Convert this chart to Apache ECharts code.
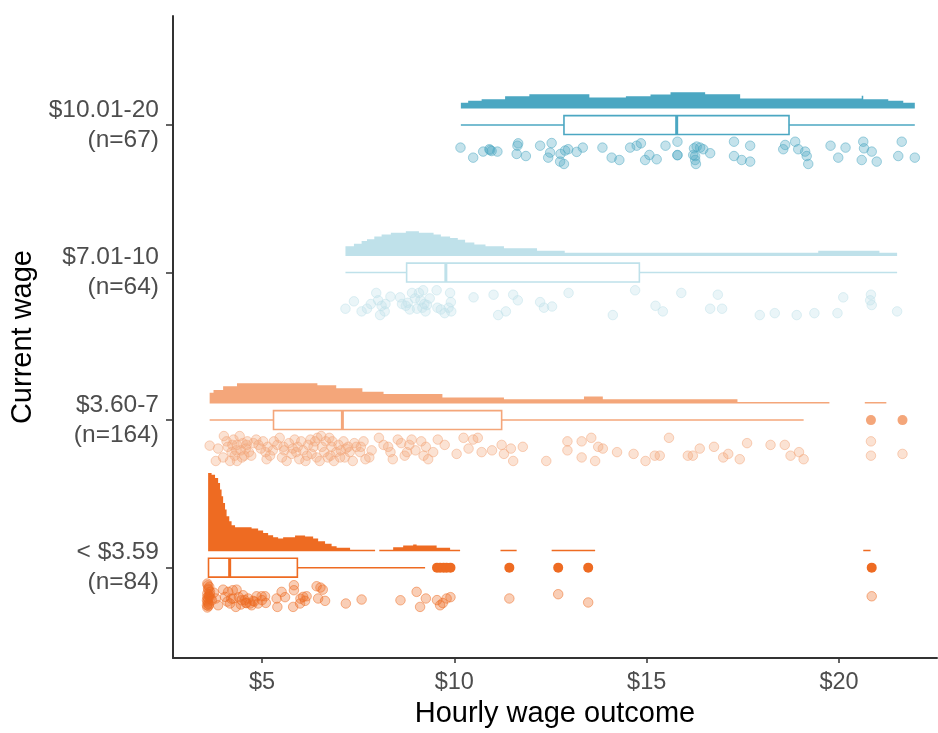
<!DOCTYPE html>
<html><head><meta charset="utf-8">
<script src="https://cdn.jsdelivr.net/npm/echarts@6/dist/echarts.min.js"></script>
<style>html,body{margin:0;padding:0;background:#fff}#chart{width:938px;height:733px}</style>
</head><body><div id="chart"></div>
<script>
// ---------- data ----------
const groupNames = ['< $3.59', '$3.60-7', '$7.01-10', '$10.01-20'];
const groupN = [84, 164, 64, 67];
const xTicks = [5, 10, 15, 20];

// density steps: [x start, density height]; last entry marks end
const dens_lt359 = [[3.60,78.3],[3.69,76.7],[3.78,73.3],[3.86,68.3],[3.91,61.7],[3.95,55],[3.99,48.3],[4.04,41.7],[4.08,35],[4.15,30],[4.21,26],[4.30,24],[4.73,22.7],[4.90,20.7],[5.03,18.3],[5.16,16],[5.29,14],[5.42,12.7],[5.55,14],[5.86,15.7],[6.12,14.7],[6.33,12.7],[6.46,10],[6.64,7.3],[6.81,5],[6.94,3.3],[7.29,1.3],[7.94,0],[8.05,1.3],[8.41,4],[8.67,5.7],[8.93,6.7],[9.02,5.7],[9.54,3.3],[9.89,1.3],[10.15,0],[11.20,1.3],[11.62,0],[12.53,1.3],[13.66,0],[20.63,1.3],[20.82,0]];
const dens_360_7 = [[3.64,11],[3.74,13.6],[3.99,17.3],[4.35,20.3],[6.44,18.4],[6.93,15.4],[7.61,11.8],[8.16,9.6],[9.69,6.2],[11.29,4.4],[13.37,7],[13.86,4.4],[17.36,1.5],[19.75,0],[20.67,1.5],[21.23,0]];
const dens_701_10 = [[7.17,9.8],[7.39,12.4],[7.59,15],[7.73,16.9],[7.92,19.5],[8.11,21.5],[8.35,23.4],[8.74,25],[9.08,23.4],[9.46,21.5],[9.65,19.5],[9.89,18.2],[10.09,16.3],[10.28,13.6],[10.52,11.7],[10.81,9.8],[11.29,7.8],[12.15,5.2],[12.87,3.3],[19.46,5.2],[21.05,3.3],[21.51,0]];
const dens_1001_20 = [[10.17,5.7],[10.36,7.7],[10.71,9.3],[11.32,12.3],[11.95,14.3],[13.51,11],[14.46,12.3],[15.10,14],[15.62,16.3],[16.52,14.3],[17.43,10],[20.59,12.7],[20.63,9.3],[21.28,7.7],[21.67,5.7],[21.97,0]];

// box stats: [min, q1, median, q3, max]
const box_lt359 = [3.60, 3.61, 4.16, 5.92, 9.24];
const box_360_7 = [3.64, 5.30, 7.09, 11.23, 19.08];
const box_701_10 = [7.17, 8.76, 9.78, 14.81, 21.51];
const box_1001_20 = [10.17, 12.85, 15.78, 18.70, 21.97];

// outliers
const out_lt359 = [9.55, 9.63, 9.72, 9.80, 9.90, 11.43, 12.70, 13.48, 20.85];
const out_360_7 = [20.83, 21.65];
const out_701_10 = [];
const out_1001_20 = [];

// raw points: [wage, vertical jitter]
const pts_lt359 = [[3.58,-0.108],[3.60,-0.142],[3.58,-0.176],[3.63,-0.198],[3.57,-0.221],[3.60,-0.243],[3.58,-0.270],[3.65,-0.164],[3.665,-0.209],[3.57,-0.255],
[3.80,-0.209],[3.86,-0.255],[3.99,-0.149],[4.04,-0.198],[4.12,-0.164],[4.17,-0.243],[4.24,-0.153],[4.25,-0.209],[4.34,-0.149],[4.32,-0.266],[4.47,-0.221],[4.51,-0.187],[4.58,-0.239],[4.64,-0.209],[4.69,-0.243],[4.73,-0.255],[4.77,-0.225],[4.86,-0.194],[4.90,-0.243],[4.99,-0.194],[5.08,-0.194],[5.10,-0.239],[5.38,-0.209],[5.40,-0.266],[5.51,-0.164],[5.83,-0.119],[5.83,-0.153],[5.81,-0.266],[5.99,-0.243],[6.07,-0.198],[6.12,-0.225],[6.16,-0.194],[6.46,-0.209],[6.52,-0.135],[6.58,-0.149],[6.42,-0.126],[6.64,-0.225],[7.18,-0.243],[7.59,-0.216],[8.60,-0.221],[9.02,-0.164],[9.11,-0.266],[9.26,-0.209],[9.63,-0.255],[9.80,-0.209],
[11.43,-0.209],[12.70,-0.180],[13.48,-0.236],[20.85,-0.194],
[3.59,-0.12],[3.61,-0.15],[3.62,-0.19],[3.59,-0.23],[3.61,-0.26],[3.63,-0.13],[3.60,-0.21],[3.62,-0.25],[3.64,-0.18],[3.58,-0.20],[3.70,-0.22],[3.75,-0.17],[4.10,-0.23],[4.40,-0.20],[4.55,-0.22],[4.60,-0.24],[4.80,-0.23],[5.00,-0.22],[5.60,-0.20],[6.00,-0.21],[9.55,-0.22],[9.70,-0.24],[9.90,-0.20],[4.20,-0.21],[4.45,-0.25]];

const pts_360_7 = [[3.64,-0.173],[3.80,-0.277],[4.01,-0.108],[4.08,-0.144],[4.11,-0.181],[4.17,-0.277],[4.21,-0.217],[4.26,-0.132],[4.29,-0.241],[4.35,-0.168],[4.35,-0.277],[4.42,-0.108],[4.45,-0.205],[4.50,-0.156],[4.54,-0.241],[4.58,-0.193],[4.62,-0.144],[4.66,-0.217],[4.85,-0.132],[4.91,-0.168],[5.03,-0.144],[5.09,-0.217],[5.12,-0.265],[5.15,-0.181],[5.31,-0.144],[5.40,-0.168],[5.46,-0.120],[5.58,-0.205],[5.64,-0.277],[5.70,-0.156],[5.77,-0.229],[5.85,-0.132],[5.93,-0.181],[5.97,-0.265],[6.07,-0.205],[6.13,-0.277],[6.17,-0.241],[6.20,-0.168],[6.26,-0.132],[6.34,-0.181],[6.38,-0.144],[6.44,-0.120],[6.50,-0.277],[6.54,-0.108],[6.62,-0.217],[6.66,-0.144],[6.71,-0.253],[6.75,-0.120],[6.81,-0.181],[6.87,-0.277],[6.93,-0.217],[6.99,-0.168],[7.05,-0.205],[7.12,-0.144],[7.15,-0.253],[7.24,-0.181],[7.36,-0.277],[7.45,-0.181],[7.55,-0.217],[7.64,-0.144],[7.69,-0.265],[7.79,-0.253],[8.04,-0.120],[8.16,-0.168],[8.34,-0.217],[8.40,-0.265],[8.53,-0.132],[8.62,-0.156],[8.71,-0.241],[8.83,-0.168],[8.89,-0.132],[8.99,-0.205],[9.14,-0.144],[9.26,-0.181],[9.32,-0.265],[9.45,-0.217],[9.57,-0.132],[10.06,-0.229],[10.24,-0.120],[10.37,-0.193],[10.49,-0.132],[10.61,-0.120],[10.71,-0.217],[10.98,-0.205],[11.23,-0.168],[11.29,-0.229],[11.47,-0.193],[11.53,-0.277],[11.78,-0.181],[12.39,-0.277],[12.94,-0.144],[12.94,-0.205],[13.31,-0.144],[13.31,-0.253],[13.56,-0.120],[13.66,-0.277],[13.74,-0.181],[13.86,-0.193],[14.23,-0.217],[14.66,-0.229],[14.97,-0.277],[15.21,-0.241],[15.34,-0.241],[15.58,-0.120],[16.07,-0.241],[16.20,-0.241],[16.38,-0.193],[16.75,-0.181],[16.99,-0.253],[17.12,-0.229],[17.42,-0.265],[17.61,-0.156],[18.22,-0.168],[18.59,-0.168],[18.74,-0.241],[18.96,-0.217],[19.08,-0.265],[20.83,-0.144],[20.83,-0.241],[21.65,-0.229],
[3.86,-0.193],[3.99,-0.253],[4.23,-0.168],[4.33,-0.205],[4.48,-0.253],[4.60,-0.168],[4.72,-0.241],[4.78,-0.156],[4.97,-0.193],[5.21,-0.241],[5.28,-0.205],[5.52,-0.253],[5.56,-0.181],[5.80,-0.193],[5.89,-0.217],[6.02,-0.144],[6.29,-0.229],[6.42,-0.253],[6.56,-0.181],[6.78,-0.241],[6.83,-0.144],[7.03,-0.253],[7.18,-0.193],[7.28,-0.217],[7.40,-0.156],[7.57,-0.181],[7.85,-0.205],[8.28,-0.181],[8.77,-0.217],[9.20,-0.241],[9.75,-0.168]];

const pts_701_10 = [[7.17,-0.245],[7.39,-0.195],[7.59,-0.263],[7.73,-0.245],[7.97,-0.138],[8.02,-0.188],[8.07,-0.288],[8.19,-0.263],[8.21,-0.213],[8.34,-0.163],[8.59,-0.168],[8.74,-0.225],[8.79,-0.205],[8.90,-0.138],[9.03,-0.245],[9.08,-0.138],[9.12,-0.188],[9.19,-0.120],[9.22,-0.213],[9.25,-0.263],[9.29,-0.220],[9.54,-0.120],[9.56,-0.238],[9.75,-0.275],[9.89,-0.138],[9.91,-0.200],[9.92,-0.263],[10.50,-0.168],[11.02,-0.150],[11.14,-0.288],[11.34,-0.263],[11.53,-0.150],[11.65,-0.188],[12.23,-0.200],[12.33,-0.238],[12.54,-0.230],[12.97,-0.138],[14.12,-0.288],[14.70,-0.120],[15.23,-0.225],[15.42,-0.263],[15.90,-0.138],[16.65,-0.245],[16.85,-0.150],[16.96,-0.245],[17.94,-0.288],[18.33,-0.275],[18.90,-0.288],[19.36,-0.275],[19.96,-0.275],[20.11,-0.168],[20.83,-0.150],[20.81,-0.188],[20.85,-0.220],[21.51,-0.263],
[8.98,-0.175],[9.17,-0.238],[8.84,-0.250],[8.11,-0.225],[7.83,-0.213],[9.65,-0.250],[9.36,-0.175],[9.85,-0.238],[8.64,-0.213]];

const pts_1001_20 = [[10.16,-0.153],[10.49,-0.221],[10.75,-0.180],[10.91,-0.164],[10.97,-0.176],[11.12,-0.180],[11.66,-0.124],[11.64,-0.140],[11.62,-0.196],[11.86,-0.210],[12.23,-0.140],[12.53,-0.122],[12.49,-0.187],[12.44,-0.221],[12.76,-0.196],[12.75,-0.248],[12.85,-0.264],[12.88,-0.173],[12.96,-0.164],[13.18,-0.182],[13.34,-0.153],[13.85,-0.153],[14.09,-0.221],[14.29,-0.237],[14.57,-0.153],[14.74,-0.140],[14.85,-0.124],[14.96,-0.237],[15.07,-0.203],[15.26,-0.232],[15.49,-0.140],[15.80,-0.113],[15.80,-0.203],[16.23,-0.158],[16.30,-0.146],[16.39,-0.153],[16.21,-0.203],[16.26,-0.237],[16.28,-0.264],[16.47,-0.164],[16.65,-0.191],[17.27,-0.113],[17.27,-0.210],[17.47,-0.237],[17.69,-0.140],[17.69,-0.248],[18.55,-0.164],[18.60,-0.135],[18.86,-0.113],[18.94,-0.164],[19.12,-0.180],[19.16,-0.210],[19.20,-0.264],[19.78,-0.140],[19.98,-0.221],[20.17,-0.153],[20.59,-0.237],[20.63,-0.113],[20.65,-0.158],[20.85,-0.180],[20.98,-0.248],[21.63,-0.113],[21.54,-0.210],[21.97,-0.221],[10.93,-0.170],[15.80,-0.205],[16.26,-0.210]];

const groupColors = ['#EE6B22', '#F4A67A', '#BFE1EA', '#4BA7C2'];

// ---------- assembly ----------
const densities = [dens_lt359, dens_360_7, dens_701_10, dens_1001_20];
const boxes = [box_lt359, box_360_7, box_701_10, box_1001_20];
const outliers = [out_lt359, out_360_7, out_701_10, out_1001_20];
const points = [pts_lt359, pts_360_7, pts_701_10, pts_1001_20];

const DENS_OFFSET = 0.112;   // baseline of half-violin above group centre (axis units)
const DENS_SCALE = 1 / 148;  // density units -> axis units
const BOX_HALF = 0.064;

function rgba(hex, a) {
  const n = parseInt(hex.slice(1), 16);
  return 'rgba(' + ((n >> 16) & 255) + ',' + ((n >> 8) & 255) + ',' + (n & 255) + ',' + a + ')';
}
const FONT = "'Liberation Sans', Arial, sans-serif";

const series = [];
series.push({
  type: 'custom', z: 1, silent: true,
  data: densities.map((d, i) => [i]),
  encode: { x: -1, y: -1 },
  renderItem: function (params, api) {
    const gi = api.value(0);
    const steps = densities[gi];
    const base = gi + 1 + DENS_OFFSET;
    const pts = [api.coord([steps[0][0], base])];
    for (let k = 0; k < steps.length - 1; k++) {
      const h = base + steps[k][1] * DENS_SCALE;
      pts.push(api.coord([steps[k][0], h]));
      pts.push(api.coord([steps[k + 1][0], h]));
    }
    pts.push(api.coord([steps[steps.length - 1][0], base]));
    return { type: 'polygon', shape: { points: pts }, style: { fill: groupColors[gi] } };
  }
});

points.forEach((arr, gi) => {
  series.push({
    type: 'scatter', z: 2, silent: true,
    symbolSize: 9.5,
    data: arr.map(p => [p[0], gi + 1 + p[1]]),
    itemStyle: { color: rgba(groupColors[gi], 0.33), borderColor: rgba(groupColors[gi], 0.5), borderWidth: 1, opacity: 1 }
  });
});

series.push({
  type: 'custom', z: 3, silent: true,
  data: boxes.map((b, i) => [i].concat(b)),
  encode: { x: -1, y: -1 },
  renderItem: function (params, api) {
    const gi = api.value(0);
    const y = gi + 1;
    const c = groupColors[gi];
    const pMin = api.coord([api.value(1), y]);
    const pQ1 = api.coord([api.value(2), y]);
    const pMed = api.coord([api.value(3), y]);
    const pQ3 = api.coord([api.value(4), y]);
    const pMax = api.coord([api.value(5), y]);
    const top = api.coord([api.value(2), y + BOX_HALF])[1];
    const bot = api.coord([api.value(2), y - BOX_HALF])[1];
    const children = [];
    if (pQ1[0] - pMin[0] > 0.5) children.push({ type: 'line', shape: { x1: pMin[0], y1: pMin[1], x2: pQ1[0], y2: pQ1[1] }, style: { stroke: c, lineWidth: 1.5 } });
    children.push({ type: 'line', shape: { x1: pQ3[0], y1: pQ3[1], x2: pMax[0], y2: pMax[1] }, style: { stroke: c, lineWidth: 1.5 } });
    children.push({ type: 'rect', shape: { x: pQ1[0], y: top, width: pQ3[0] - pQ1[0], height: bot - top }, style: { fill: '#fff', stroke: c, lineWidth: 1.6 } });
    children.push({ type: 'line', shape: { x1: pMed[0], y1: top, x2: pMed[0], y2: bot }, style: { stroke: c, lineWidth: 3 } });
    return { type: 'group', children: children };
  }
});

outliers.forEach((arr, gi) => {
  if (!arr.length) return;
  series.push({
    type: 'scatter', z: 4, silent: true, symbolSize: 10,
    data: arr.map(v => [v, gi + 1]),
    itemStyle: { color: groupColors[gi], opacity: 1 }
  });
});

const option = {
  animation: false,
  backgroundColor: '#fff',
  grid: { left: 173, right: 1, top: 16, bottom: 73, containLabel: false },
  xAxis: {
    type: 'value', min: 2.687, max: 22.547,
    name: 'Hourly wage outcome', nameLocation: 'middle', nameGap: 40,
    nameTextStyle: { fontSize: 29, color: '#000', fontFamily: FONT },
    axisLine: { show: true, onZero: false, lineStyle: { color: '#333', width: 2 } },
    axisTick: { show: true, customValues: xTicks, length: 5, lineStyle: { color: '#333', width: 1.5 } },
    axisLabel: { customValues: xTicks, formatter: v => '$' + Math.round(v), color: '#4d4d4d', fontSize: 23.5, margin: 12, fontFamily: FONT },
    splitLine: { show: false }
  },
  yAxis: {
    type: 'value', min: 0.387, max: 4.739,
    name: 'Current wage', nameLocation: 'middle', nameGap: 132, nameRotate: 90,
    nameTextStyle: { fontSize: 29, color: '#000', fontFamily: FONT },
    axisLine: { show: true, onZero: false, lineStyle: { color: '#333', width: 2 } },
    axisTick: { show: true, customValues: [1, 2, 3, 4], length: 7, lineStyle: { color: '#333', width: 1.5 } },
    axisLabel: {
      customValues: [1, 2, 3, 4],
      formatter: v => { const i = Math.round(v) - 1; return groupNames[i] + '\n(n=' + groupN[i] + ')'; },
      color: '#4d4d4d', fontSize: 24.5, lineHeight: 30, margin: 14, align: 'right', fontFamily: FONT
    },
    splitLine: { show: false }
  },
  series: series
};

const chart = echarts.init(document.getElementById('chart'), null, { renderer: 'canvas' });
chart.setOption(option);
</script>
</body></html>
